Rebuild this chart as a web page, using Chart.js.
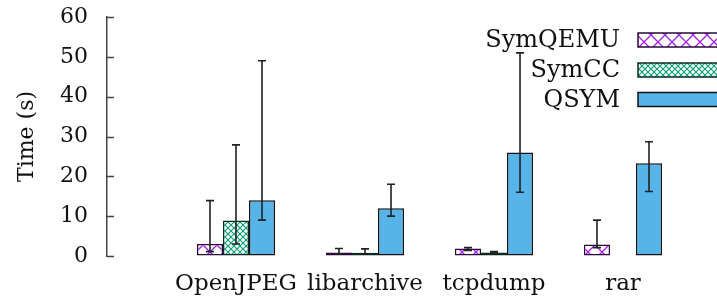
<!DOCTYPE html>
<html><head><meta charset="utf-8">
<script src="https://cdn.jsdelivr.net/npm/chart.js@4"></script>
<style>html,body{margin:0;padding:0;background:#fff}</style>
</head><body>
<canvas id="c" width="717" height="305"></canvas>
<script>
const categories = ['OpenJPEG', 'libarchive', 'tcpdump', 'rar'];
const seriesNames = ['SymQEMU', 'SymCC', 'QSYM'];
const symqemu = [3, 0.9, 1.9, 2.9];
const symqemuLow = [1.1, 0.5, 1.4, 2.1];
const symqemuHigh = [13.9, 1.9, 2.1, 9.0];
const symcc = [8.9, 0.8, 0.85, null];
const symccLow = [3.0, 0.5, 0.7, null];
const symccHigh = [27.9, 1.8, 1.1, null];
const qsym = [14, 12, 26, 23.3];
const qsymLow = [9, 10, 16, 16.2];
const qsymHigh = [49, 18, 51, 28.7];
const yTicks = [0, 10, 20, 30, 40, 50, 60];

const FONT = 'DejaVu Serif';

function crossPattern(size, color, lw) {
  const c = document.createElement('canvas');
  c.width = size; c.height = size;
  const g = c.getContext('2d');
  g.fillStyle = '#fff'; g.fillRect(0, 0, size, size);
  g.strokeStyle = color; g.lineWidth = lw;
  g.beginPath();
  g.moveTo(-1, -1); g.lineTo(size + 1, size + 1);
  g.moveTo(-1, size + 1); g.lineTo(size + 1, -1);
  g.stroke();
  return document.getElementById('c').getContext('2d').createPattern(c, 'repeat');
}
const patQ = crossPattern(14, '#a51ee6', 1.3);
const patC = crossPattern(6, '#079e73', 1.1);
const fills = [patQ, patC, '#56b4e9'];
const borders = ['#2a0a3a', '#0b2a20', '#111'];

const values = [symqemu, symcc, qsym];
const lows = [symqemuLow, symccLow, qsymLow];
const highs = [symqemuHigh, symccHigh, qsymHigh];

const labels = [''].concat(categories);

const extras = {
  id: 'extras',
  afterDatasetsDraw(chart) {
    const ctx = chart.ctx;
    const y = chart.scales.y;
    const area = chart.chartArea;
    ctx.save();
    // inward ticks
    ctx.strokeStyle = '#444'; ctx.lineWidth = 1.5;
    yTicks.forEach(t => {
      const py = Math.round(y.getPixelForValue(t)) + 0.5;
      ctx.beginPath(); ctx.moveTo(area.left, py); ctx.lineTo(area.left + 7, py); ctx.stroke();
    });
    // error bars
    ctx.strokeStyle = '#222'; ctx.lineWidth = 1.6;
    chart.data.datasets.forEach((ds, di) => {
      const meta = chart.getDatasetMeta(di);
      meta.data.forEach((el, i) => {
        if (i === 0) return;
        const lo = lows[di][i - 1], hi = highs[di][i - 1];
        if (lo == null || hi == null) return;
        const x = el.x;
        const y1 = y.getPixelForValue(lo), y2 = y.getPixelForValue(hi);
        ctx.beginPath();
        ctx.moveTo(x, y1); ctx.lineTo(x, y2);
        ctx.moveTo(x - 4, y1); ctx.lineTo(x + 4, y1);
        ctx.moveTo(x - 4, y2); ctx.lineTo(x + 4, y2);
        ctx.stroke();
      });
    });
    // legend
    const legY = [40, 70, 99.5];
    ctx.font = '24px "' + FONT + '"';
    ctx.textAlign = 'right'; ctx.textBaseline = 'middle';
    seriesNames.forEach((n, i) => {
      ctx.fillStyle = '#111';
      ctx.fillText(n, 620, legY[i] + 1);
      ctx.fillStyle = fills[i];
      ctx.fillRect(638, legY[i] - 7, 130, 14);
      ctx.strokeStyle = borders[i]; ctx.lineWidth = 1.5;
      ctx.strokeRect(638, legY[i] - 7, 130, 14);
    });
    ctx.restore();
  }
};

new Chart(document.getElementById('c'), {
  type: 'bar',
  plugins: [extras],
  data: {
    labels: labels,
    datasets: values.map((v, i) => ({
      label: seriesNames[i],
      data: [null].concat(v),
      backgroundColor: fills[i],
      borderColor: borders[i],
      borderWidth: 1.5,
      borderSkipped: false,
      categoryPercentage: 0.605,
      barPercentage: 1.0,
      clip: false
    }))
  },
  options: {
    responsive: false,
    animation: false,
    devicePixelRatio: 1,
    layout: { padding: { top: 17, right: 94, bottom: 0, left: 0 } },
    plugins: { legend: { display: false }, tooltip: { enabled: false } },
    scales: {
      x: {
        type: 'category',
        offset: false,
        grid: { display: false, drawTicks: false },
        border: { display: false },
        ticks: { autoSkip: false, maxRotation: 0, padding: 14, color: '#111', font: { family: FONT, size: 23 } },
        afterFit(s) { s.height = 49; s.paddingLeft = 0; s.paddingRight = 0; }
      },
      y: {
        min: 0, max: 60,
        afterBuildTicks(s) { s.ticks = yTicks.map(v => ({ value: v })); },
        grid: { display: true, drawOnChartArea: false, drawTicks: false },
        border: { display: true, color: '#444', width: 1.5 },
        ticks: { padding: 19, color: '#111', font: { family: FONT, size: 22 } },
        title: { display: true, text: 'Time (s)', color: '#111', font: { family: FONT, size: 22 }, padding: { top: 14, bottom: 0 } },
        afterFit(s) { s.width = 107; s.paddingTop = 0; s.paddingBottom = 0; }
      }
    }
  }
});
</script>
</body></html>
